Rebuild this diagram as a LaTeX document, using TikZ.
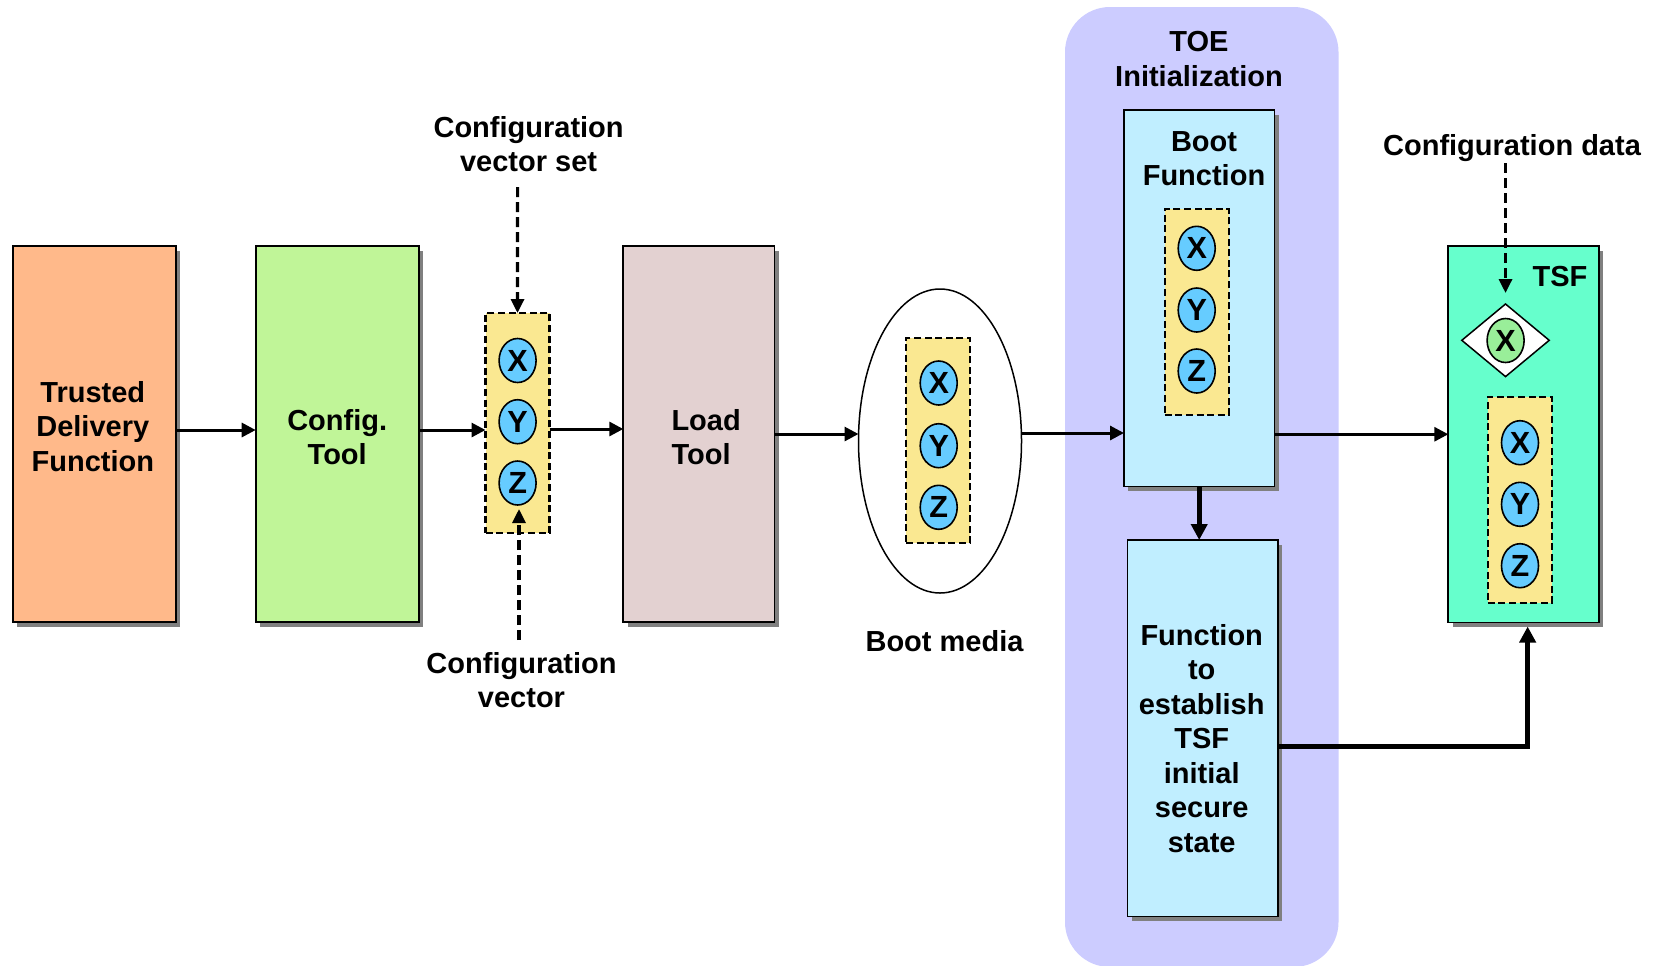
\documentclass[tikz,border=0pt]{standalone}
\usepackage{fontspec}
\setmainfont{Liberation Sans}
\usetikzlibrary{arrows.meta,shapes.geometric,shadows,calc}
\definecolor{peach}{HTML}{FFB98A}
\definecolor{cfggreen}{HTML}{C0F598}
\definecolor{loadpink}{HTML}{E3D1D1}
\definecolor{vecyellow}{HTML}{FAE891}
\definecolor{circblue}{HTML}{66CCFF}
\definecolor{fnblue}{HTML}{C0EEFF}
\definecolor{toelav}{HTML}{CCCCFF}
\definecolor{tsfgreen}{HTML}{66FFCC}
\definecolor{xgreen}{HTML}{99EE99}
\begin{document}
\begin{tikzpicture}[x=0.5pt,y=-0.5pt,
  every node/.style={font=\fontsize{14.5}{17.25}\selectfont\bfseries, inner sep=0pt, outer sep=0pt},
  box/.style={draw, line width=0.9pt, minimum height=188.25pt,
    drop shadow={shadow xshift=2.2pt, shadow yshift=-2.4pt, fill=black!50, opacity=1}},
  vecbox/.style={draw, line width=1.2pt, dash pattern=on 3.5pt off 1.8pt, fill=vecyellow, minimum width=32pt},
  xyz/.style={draw, ellipse, line width=0.8pt, fill=circblue, minimum width=18.5pt, minimum height=22pt,
    font=\fontsize{15.3}{17}\selectfont\bfseries},
  arr/.style={line width=1.5pt, -{Triangle[length=7pt,width=7pt]}},
  tarr/.style={line width=2.4pt, -{Triangle[length=8pt,width=8pt]}},
  darr/.style={line width=1.6pt, dash pattern=on 5pt off 2.5pt, -{Triangle[length=7pt,width=6.5pt]}}
]
\useasboundingbox (0,0) rectangle (1653,965);
\fill[white] (0,0) rectangle (1653,965);

% TOE background
\node[fill=toelav, rounded corners=22.5pt, minimum width=136.75pt, minimum height=480pt] (toe) at (1201.75,487) {};
\node[align=center] (toetxt) at (1199,58.8) {TOE\\Initialization};

% main boxes
\node[box, fill=peach, minimum width=81.65pt] (trusted) at (94.35,434) {};
\node[align=center] (trustedtxt) at (92.8,426.2) {Trusted\\Delivery\\Function};

\node[box, fill=cfggreen, minimum width=81.5pt] (config) at (337.2,434) {};
\node[align=center] (configtxt) at (337.2,437.2) {Config.\\Tool};

\node[vecbox, minimum height=110pt] (vec1) at (517.5,423) {};
\node[xyz] (v1x) at (517.6,360.5) {X};
\node[xyz] (v1y) at (517.6,421.7) {Y};
\node[xyz] (v1z) at (517.6,483) {Z};

\node[box, fill=loadpink, minimum width=75.6pt] (load) at (698.9,434) {};
\node[align=left, anchor=west] (loadtxt) at (671.5,437.2) {Load\\Tool};

\node[draw, ellipse, line width=0.75pt, minimum width=81.5pt, minimum height=152pt] (ell) at (940,441) {};
\node[vecbox, minimum height=102.5pt] (vec2) at (938,440.5) {};
\node[xyz] (v2x) at (938.7,383) {X};
\node[xyz] (v2y) at (938.7,445.7) {Y};
\node[xyz] (v2z) at (938.7,507.3) {Z};
\node[anchor=base] (bmtxt) at (944.5,651.7) {Boot media};

\node[box, fill=fnblue, minimum width=75.2pt] (bootfn) at (1199.2,298.2) {};
\node[align=center] (boottxt) at (1204,158.8) {Boot\\Function};
\node[vecbox, minimum height=102.8pt] (vec3) at (1196.7,312) {};
\node[xyz] (v3x) at (1196.7,248.3) {X};
\node[xyz] (v3y) at (1196.7,310) {Y};
\node[xyz] (v3z) at (1196.7,371) {Z};

\node[box, fill=fnblue, minimum width=75.25pt] (estab) at (1202.75,728.25) {};
\node[align=center] (estabtxt) at (1201.7,738.2) {Function\\to\\establish\\TSF\\initial\\secure\\state};

\node[box, fill=tsfgreen, minimum width=75.35pt] (tsf) at (1523.65,434.25) {};
\node (tsftxt) at (1560,276.3) {TSF};
\node[draw, diamond, fill=white, line width=0.75pt, minimum width=43.7pt, minimum height=36.3pt] (dia) at (1505.5,340.3) {};
\node[xyz, fill=xgreen] (gx) at (1505.6,340.5) {X};
\node[vecbox, minimum height=103pt] (vec4) at (1519.8,499.7) {};
\node[xyz] (v4x) at (1520,442.7) {X};
\node[xyz] (v4y) at (1520,504.3) {Y};
\node[xyz] (v4z) at (1520,565.7) {Z};

% labels
\node[align=center] (lcvs) at (528.6,144.3) {Configuration\\vector set};
\node[align=center] (lcv) at (521.5,680.3) {Configuration\\vector};
\node[anchor=base] (lcd) at (1512,155) {Configuration data};

% connectors
\coordinate (a1) at ($(trusted.east)+(0,-4)$);
\draw[arr] (a1) -- (a1 -| config.west);
\coordinate (a2) at ($(config.east)+(0,-4)$);
\draw[arr] (a2) -- (a2 -| vec1.west);
\coordinate (a3) at ($(vec1.east)+(0,6)$);
\draw[arr] (a3) -- (a3 -| load.west);
\draw[arr] (load.east) -- (load.east -| ell.west);
\coordinate (a5) at ($(ell.east)+(0,-8)$);
\draw[arr] (a5) -- (a5 -| bootfn.west);
\draw[arr] (tsf.west -| bootfn.east) -- (tsf.west);
\draw[tarr] (bootfn.south) -- (bootfn.south |- estab.north);
\coordinate (a8) at ($(estab.east)+(0,18)$);
\coordinate (a8e) at ($(tsf.south)+(4,4)$);
\draw[tarr] (a8) -| (a8e);

\coordinate (cvsstart) at (517.6,187);
\draw[darr] (cvsstart) -- (vec1.north);
\coordinate (cvstart) at (519,640);
\coordinate (cvtip) at (519,509);
\draw[darr] (cvstart) -- (cvtip);
\coordinate (cdstart) at (1505.5,163);
\coordinate (cdtip) at (1505.5,293);
\draw[darr] (cdstart) -- (cdtip);
\end{tikzpicture}
\end{document}
